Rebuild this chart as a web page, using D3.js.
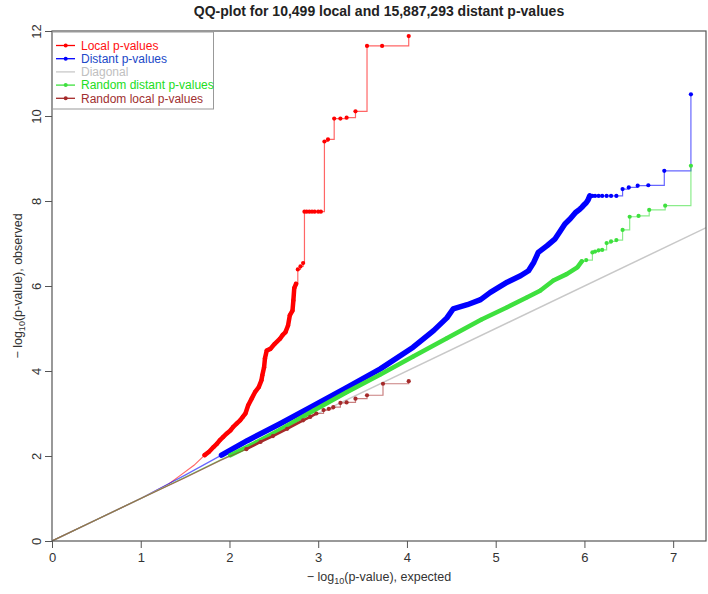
<!DOCTYPE html>
<html><head><meta charset="utf-8">
<script src="https://cdn.jsdelivr.net/npm/d3@7"></script>
<style>body{margin:0;background:#fff;} svg{display:block;}</style>
</head><body><svg id="c" width="708" height="594"></svg>
<script>
const chartTitle = "QQ-plot for 10,499 local and 15,887,293 distant p-values";
const xTicks = [0,1,2,3,4,5,6,7];
const yTicks = [0,2,4,6,8,10,12];
const seriesNames = ["Local p-values","Distant p-values","Diagonal","Random distant p-values","Random local p-values"];

const localPts = [[0,0],[0.5,0.5],[1.0,1.0],[1.3,1.32],[1.45,1.55],[1.6,1.78],[1.72,2.02],[1.77,2.1],[1.82,2.21],[1.86,2.29],[1.89,2.37],[1.93,2.45],[1.97,2.53],[2.01,2.6],[2.04,2.68],[2.08,2.76],[2.12,2.84],[2.15,2.92],[2.18,3.00],[2.21,3.19],[2.25,3.35],[2.29,3.51],[2.33,3.62],[2.36,3.78],[2.37,3.90],[2.39,4.09],[2.40,4.30],[2.42,4.48],[2.46,4.52],[2.51,4.64],[2.57,4.76],[2.60,4.85],[2.63,4.91],[2.66,5.07],[2.68,5.31],[2.71,5.42],[2.72,5.66],[2.73,5.95],[2.75,6.05],[2.77,6.39],[2.80,6.46],[2.83,6.54],[2.845,7.75],[2.87,7.75],[2.90,7.75],[2.93,7.75],[2.96,7.75],[3.00,7.75],[3.03,7.75],[3.07,9.40],[3.11,9.45],[3.18,9.94],[3.25,9.94],[3.32,9.96],[3.42,10.11],[3.55,11.65],[3.72,11.65],[4.02,11.88]];

const distantPts = [[0,0],[0.5,0.5],[1.0,1.0],[1.5,1.55],[1.91,2.02],[2.2,2.36],[2.57,2.76],[2.9,3.13],[3.32,3.61],[3.70,4.05],[4.07,4.56],[4.30,4.95],[4.45,5.25],[4.52,5.46],[4.68,5.56],[4.83,5.68],[4.94,5.85],[5.13,6.09],[5.28,6.24],[5.37,6.36],[5.43,6.56],[5.48,6.79],[5.58,6.95],[5.67,7.11],[5.73,7.30],[5.78,7.46],[5.84,7.58],[5.90,7.73],[5.95,7.81],[5.97,7.85],[6.00,7.92],[6.02,7.96],[6.04,8.02],[6.06,8.12],[6.09,8.12],[6.12,8.12],[6.16,8.12],[6.20,8.12],[6.25,8.12],[6.30,8.12],[6.36,8.12],[6.43,8.28],[6.50,8.32],[6.60,8.36],[6.72,8.37],[6.90,8.71],[7.20,10.51]];

const randomDistantPts = [[0,0],[0.5,0.5],[1.0,1.0],[1.5,1.5],[2.01,2.02],[2.3,2.32],[2.57,2.62],[2.95,3.07],[3.32,3.50],[3.70,3.92],[4.07,4.34],[4.45,4.77],[4.84,5.21],[5.13,5.50],[5.35,5.73],[5.50,5.89],[5.65,6.13],[5.80,6.28],[5.92,6.44],[5.97,6.58],[6.02,6.61],[6.09,6.79],[6.12,6.81],[6.16,6.84],[6.20,6.85],[6.25,7.01],[6.30,7.05],[6.36,7.08],[6.43,7.32],[6.51,7.63],[6.61,7.65],[6.73,7.79],[6.91,7.89],[7.20,8.83]];

const randomLocalPts = [[0,0],[0.5,0.5],[1.0,1.0],[1.5,1.49],[1.9,1.9],[2.19,2.16],[2.35,2.33],[2.49,2.47],[2.65,2.64],[2.83,2.84],[2.91,2.92],[2.98,3.00],[3.06,3.08],[3.12,3.11],[3.17,3.15],[3.25,3.25],[3.32,3.26],[3.42,3.35],[3.55,3.43],[3.73,3.70],[4.02,3.76]];

const diagonalPts = [[0,0],[7.4,7.4]];

const series = [
  {pts: localPts, color: "#ff0000", dotFrom: 1.72, dense: [1.72, 2.75], denseW: 4.5},
  {pts: distantPts, color: "#0000ff", dotFrom: 1.91, dense: [1.91, 6.06], denseW: 5.5},
  {pts: randomDistantPts, color: "#3ee03e", dotFrom: 2.01, dense: [2.01, 5.97], denseW: 4.5},
  {pts: randomLocalPts, color: "#a52a2a", dotFrom: 2.19, dense: [2.19, 2.98], denseW: 2.5}
];

const svg = d3.select("#c");
const W = 708, H = 594;
const x = d3.scaleLinear().domain([0, 7.37]).range([52, 706]);
const y = d3.scaleLinear().domain([0, 12]).range([541, 31]);
const font = "'Liberation Sans Narrow','Arial Narrow','Liberation Sans',Arial,sans-serif";

svg.append("rect").attr("width", W).attr("height", H).attr("fill", "#fff");

svg.append("defs").append("clipPath").attr("id", "clip")
  .append("rect").attr("x", 52).attr("y", 31).attr("width", 654).attr("height", 510);

const plot = svg.append("g").attr("clip-path", "url(#clip)");
const stepLine = d3.line().x(d => x(d[0])).y(d => y(d[1])).curve(d3.curveStepAfter);
const linLine = d3.line().x(d => x(d[0])).y(d => y(d[1])).curve(d3.curveLinear);

function drawSeries(s) {
  const head = s.pts.filter(d => d[0] <= s.dense[1]);
  const tail = s.pts.filter(d => d[0] >= head[head.length - 1][0]);
  plot.append("path").datum(head).attr("d", linLine)
    .attr("fill", "none").attr("stroke", s.color).attr("stroke-width", 1.2).attr("stroke-opacity", 0.6);
  plot.append("path").datum(tail).attr("d", stepLine)
    .attr("fill", "none").attr("stroke", s.color).attr("stroke-width", 1.2).attr("stroke-opacity", 0.6);
  const dense = s.pts.filter(d => d[0] >= s.dense[0] && d[0] <= s.dense[1]);
  plot.append("path").datum(dense).attr("d", linLine)
    .attr("fill", "none").attr("stroke", s.color).attr("stroke-width", s.denseW).attr("stroke-linecap", "round").attr("stroke-linejoin", "round");
  plot.append("g").selectAll("circle").data(s.pts.filter(d => d[0] >= s.dotFrom)).join("circle")
    .attr("cx", d => x(d[0])).attr("cy", d => y(d[1])).attr("r", 2.1).attr("fill", s.color);
}

drawSeries(series[0]);
drawSeries(series[1]);
plot.append("path").datum(diagonalPts).attr("d", linLine)
  .attr("stroke", "#c8c8c8").attr("stroke-width", 1.5).attr("fill", "none");
drawSeries(series[2]);
drawSeries(series[3]);

// axes
const xAxis = svg.append("g").attr("transform", "translate(0,541)")
  .call(d3.axisBottom(x).tickValues(xTicks).tickFormat(d3.format("d")).tickSize(7).tickPadding(5));
const yAxis = svg.append("g").attr("transform", "translate(52,0)")
  .call(d3.axisLeft(y).tickValues(yTicks).tickFormat(d3.format("d")).tickSize(7));
[xAxis, yAxis].forEach(g => {
  g.select(".domain").remove();
  g.selectAll(".tick line").attr("stroke", "#555");
  g.selectAll("text").attr("font-family", font).attr("font-size", 13).attr("fill", "#333");
});
yAxis.selectAll("text").attr("x", 0).attr("dy", 0).attr("text-anchor", "middle")
  .attr("transform", "translate(-11,0) rotate(-90)");

svg.append("rect").attr("x", 52).attr("y", 31).attr("width", 654).attr("height", 510)
  .attr("fill", "none").attr("stroke", "#555").attr("stroke-width", 1.2);

// title
svg.append("text").attr("x", 379).attr("y", 16).attr("text-anchor", "middle")
  .attr("font-family", font).attr("font-weight", "bold").attr("font-size", 14).attr("fill", "#222")
  .text(chartTitle);

// axis titles
const xl = svg.append("text").attr("x", 379).attr("y", 581).attr("text-anchor", "middle")
  .attr("font-family", font).attr("font-size", 12.5).attr("fill", "#333");
xl.append("tspan").text("\u2212 log");
xl.append("tspan").attr("font-size", 9).attr("dy", 3).text("10");
xl.append("tspan").attr("dy", -3).text("(p-value), expected");

const yl = svg.append("text").attr("transform", "translate(22,286) rotate(-90)").attr("text-anchor", "middle")
  .attr("font-family", font).attr("font-size", 12.5).attr("fill", "#333");
yl.append("tspan").text("\u2212 log");
yl.append("tspan").attr("font-size", 9).attr("dy", 3).text("10");
yl.append("tspan").attr("dy", -3).text("(p-value), observed");

// legend
const legendColors = ["#ff0000", "#0000ff", "#c8c8c8", "#3ee03e", "#a52a2a"];
const legendText = ["#ff1010", "#2048c8", "#c0c0c0", "#22dd22", "#a03030"];
const lg = svg.append("g");
lg.append("rect").attr("x", 52.5).attr("y", 32).attr("width", 161).attr("height", 77)
  .attr("fill", "#fff").attr("stroke", "#999");
seriesNames.forEach((n, i) => {
  const ry = 45.5 + i * 13.2;
  lg.append("line").attr("x1", 56).attr("x2", 75).attr("y1", ry).attr("y2", ry)
    .attr("stroke", legendColors[i]).attr("stroke-width", 1.3);
  if (i !== 2) lg.append("circle").attr("cx", 65.7).attr("cy", ry).attr("r", 2).attr("fill", legendColors[i]);
  lg.append("text").attr("x", 81).attr("y", ry).attr("dy", "0.36em")
    .attr("font-family", "'Liberation Sans',Arial,sans-serif").attr("font-size", 12)
    .attr("fill", legendText[i]).text(n);
});
</script></body></html>
